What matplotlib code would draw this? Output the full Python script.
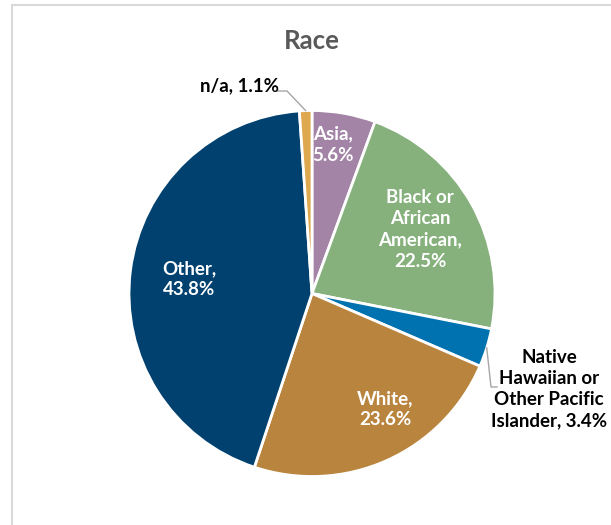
import numpy as np
import matplotlib.pyplot as plt
from matplotlib.patches import Rectangle

plt.rcParams['font.family'] = ['Lato', 'DejaVu Sans']

# share of respondents by race, clockwise from 12 o'clock
names = ['Asia', 'Black or\nAfrican\nAmerican', 'Native\nHawaiian or\nOther Pacific\nIslander',
         'White', 'Other', 'n/a']
shares = [5.6, 22.5, 3.4, 23.6, 43.8, 1.1]
colors = ['#A384A7', '#86B17D', '#0072B0', '#B9853E', '#00416F', '#DEA84F']

W, H = 611, 525
cx, cy, r = 312, 293.5, 183


def to_data(x, y):
    # pixel position -> pie coordinates (radius 1)
    return (x - cx) / r, (cy - y) / r


fig = plt.figure(figsize=(W / 100, H / 100), dpi=100)
fig.patches.append(Rectangle((12 / W, -0.1), 1.2, 1.1 - 5 / H, transform=fig.transFigure,
                             fill=False, edgecolor='#D9D9D9', lw=1.5))
fig.text(cx / W, 1 - 41 / H, 'Race', ha='center', va='center', fontsize=18.5,
         fontweight='bold', color='#595959')

ax = fig.add_axes([(cx - r) / W, (H - cy - r) / H, 2 * r / W, 2 * r / H])
wedges, _ = ax.pie(shares, colors=colors, startangle=90, counterclock=False, radius=1,
                   wedgeprops=dict(edgecolor='white', linewidth=2))
ax.set_xlim(-1, 1)
ax.set_ylim(-1, 1)
ax.set_aspect('equal')
ax.axis('off')

texts = []
for i, (n, s) in enumerate(zip(names, shares)):
    sep = ' ' if i in (2, 5) else '\n'
    texts.append(f'{n},{sep}{s}%')

lab = dict(ha='center', va='center', fontsize=13.5, fontweight='bold', linespacing=1.3)

inside = {0: (333, 144.5), 1: (420, 229.5), 3: (385, 409), 4: (189, 279)}
for i, (px, py) in inside.items():
    ax.text(*to_data(px, py), texts[i], color='white', **lab)

# outside labels with leader lines
ax.text(*to_data(240, 86), texts[5], color='black', **lab)
ax.text(*to_data(549, 389), texts[2], color='black', **lab)

for i, elbow, end in [(5, (287, 91), (277, 91)), (2, (491, 387), (497, 387))]:
    w = wedges[i]
    mid = np.deg2rad((w.theta1 + w.theta2) / 2)
    pts = [(np.cos(mid), np.sin(mid)), to_data(*elbow), to_data(*end)]
    xs, ys = zip(*pts)
    ax.plot(xs, ys, color='#A6A6A6', lw=1, clip_on=False)

fig.savefig('out.png', dpi=100)
